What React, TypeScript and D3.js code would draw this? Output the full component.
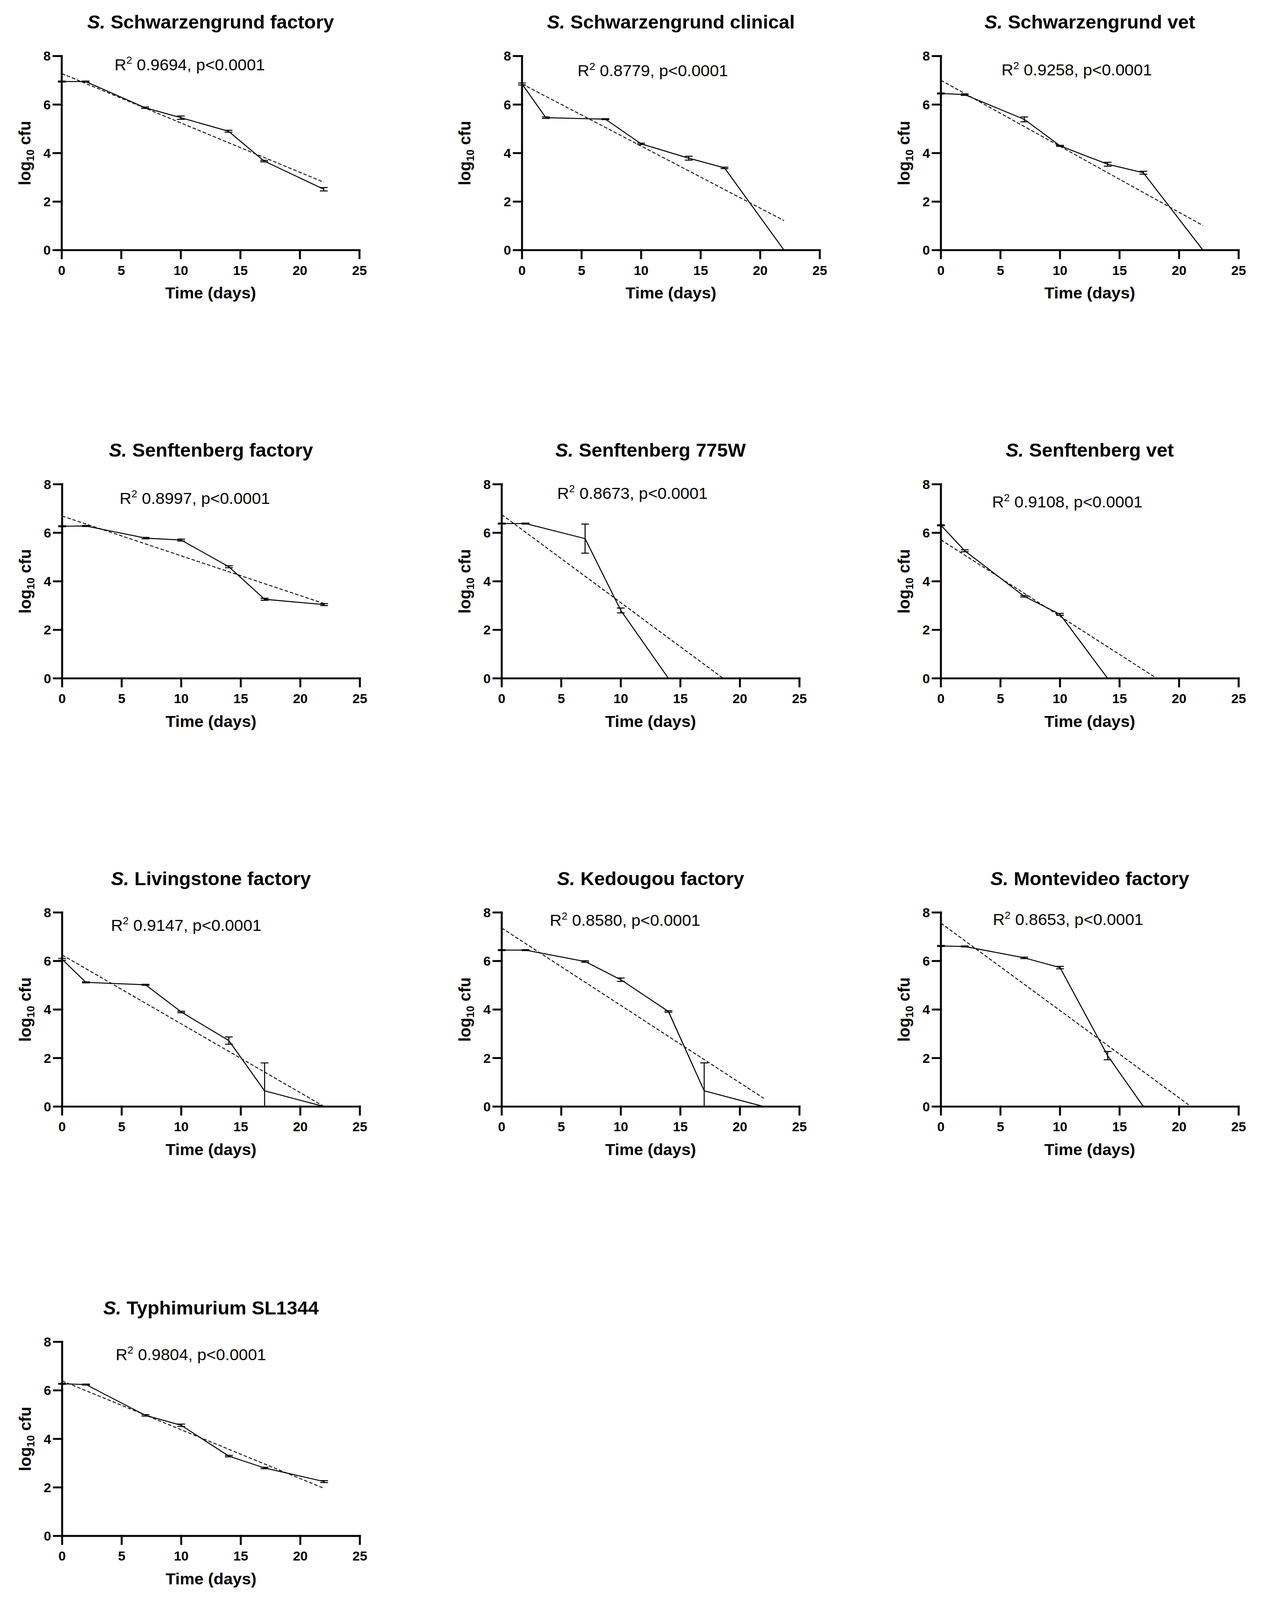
import React from 'react';
import * as d3 from 'd3';

// ---------------- data ----------------
const DAYS_7 = [0, 2, 7, 10, 14, 17, 22];
const DAYS_6 = [0, 2, 7, 10, 14, 17];
const DAYS_5 = [0, 2, 7, 10, 14];

const X_TICKS = [0, 5, 10, 15, 20, 25];
const Y_TICKS = [0, 2, 4, 6, 8];
const X_DOMAIN = [0, 25];
const Y_DOMAIN = [0, 8];

const SEROVARS = [
  'Schwarzengrund factory',
  'Schwarzengrund clinical',
  'Schwarzengrund vet',
  'Senftenberg factory',
  'Senftenberg 775W',
  'Senftenberg vet',
  'Livingstone factory',
  'Kedougou factory',
  'Montevideo factory',
  'Typhimurium SL1344',
];
const R2_VALUES = ['0.9694', '0.8779', '0.9258', '0.8997', '0.8673', '0.9108', '0.9147', '0.8580', '0.8653', '0.9804'];
const P_LABEL = 'p<0.0001';
const X_TITLE = 'Time (days)';

const SCHW_FACTORY = [6.95, 6.95, 5.87, 5.46, 4.9, 3.67, 2.51];
const SCHW_FACTORY_SEM = [0.02, 0.02, 0.03, 0.07, 0.04, 0.03, 0.07];
const SCHW_CLINICAL = [6.85, 5.46, 5.4, 4.38, 3.79, 3.39, 0];
const SCHW_CLINICAL_SEM = [0.04, 0.03, 0.02, 0.03, 0.08, 0.03, 0];
const SCHW_VET = [6.46, 6.41, 5.39, 4.3, 3.54, 3.19, 0];
const SCHW_VET_SEM = [0.02, 0.03, 0.1, 0.02, 0.08, 0.06, 0];
const SENF_FACTORY = [6.27, 6.28, 5.78, 5.7, 4.6, 3.26, 3.04];
const SENF_FACTORY_SEM = [0.02, 0.02, 0.03, 0.04, 0.04, 0.04, 0.04];
const SENF_775W = [6.38, 6.38, 5.76, 2.8, 0];
const SENF_775W_SEM = [0.02, 0.02, 0.6, 0.1, 0];
const SENF_VET = [6.31, 5.26, 3.38, 2.64, 0];
const SENF_VET_SEM = [0.02, 0.04, 0.03, 0.04, 0];
const LIVINGSTONE = [6.07, 5.12, 5.02, 3.9, 2.72, 0.65, 0];
const LIVINGSTONE_SEM = [0.04, 0.02, 0.02, 0.03, 0.15, 1.15, 0];
const KEDOUGOU = [6.45, 6.45, 5.98, 5.23, 3.92, 0.65, 0];
const KEDOUGOU_SEM = [0.02, 0.02, 0.03, 0.07, 0.03, 1.15, 0];
const MONTEVIDEO = [6.62, 6.6, 6.13, 5.73, 2.1, 0];
const MONTEVIDEO_SEM = [0.02, 0.02, 0.03, 0.05, 0.17, 0];
const TYPHIMURIUM = [6.27, 6.24, 4.97, 4.56, 3.29, 2.8, 2.24];
const TYPHIMURIUM_SEM = [0.02, 0.02, 0.03, 0.05, 0.03, 0.03, 0.04];

const FIT_INTERCEPTS = [7.28, 6.85, 7.0, 6.69, 6.75, 5.71, 6.25, 7.36, 7.56, 6.39];
const FIT_SLOPES = [-0.2036, -0.256, -0.272, -0.164, -0.363, -0.315, -0.284, -0.319, -0.36, -0.2014];
const FIT_X_MAX = 22;

const SERIES_DAYS = [DAYS_7, DAYS_7, DAYS_7, DAYS_7, DAYS_5, DAYS_5, DAYS_7, DAYS_7, DAYS_6, DAYS_7];
const SERIES_MEANS = [SCHW_FACTORY, SCHW_CLINICAL, SCHW_VET, SENF_FACTORY, SENF_775W, SENF_VET, LIVINGSTONE, KEDOUGOU, MONTEVIDEO, TYPHIMURIUM];
const SERIES_SEMS = [SCHW_FACTORY_SEM, SCHW_CLINICAL_SEM, SCHW_VET_SEM, SENF_FACTORY_SEM, SENF_775W_SEM, SENF_VET_SEM, LIVINGSTONE_SEM, KEDOUGOU_SEM, MONTEVIDEO_SEM, TYPHIMURIUM_SEM];

// ---------------- layout ----------------
const W = 3240;
const H = 4196;
const PLOT_W = 762;
const PLOT_H = 509;
const PANEL_X = [158, 1336, 2408, 159, 1284, 2408, 159, 1284, 2408, 159];
const PANEL_Y = [147, 147, 147, 1270, 1270, 1270, 2393, 2393, 2393, 3519];
const YTITLE_X = [-80, -132, -80, -80, -80, -80, -80, -80, -80, -80];
const NOTE_POS = [
  [135, 37], [142, 53], [155, 51], [147, 51], [142, 38],
  [131, 61], [125, 48], [123, 35], [133, 33], [137, 48],
];
const FONT = '"Liberation Sans", Arial, Helvetica, sans-serif';

const AXIS_W = 5;
const TICK_LEN = 21;
const CAP_HALF = 10;

function Panel({ i }: { i: number }) {
  const x = d3.scaleLinear().domain(X_DOMAIN).range([0, PLOT_W]);
  const y = d3.scaleLinear().domain(Y_DOMAIN).range([PLOT_H, 0]);
  const days = SERIES_DAYS[i];
  const means = SERIES_MEANS[i];
  const sems = SERIES_SEMS[i];
  const pts: [number, number][] = days.map((d, k) => [d, means[k]]);
  const line = d3.line<[number, number]>().x((p) => x(p[0])).y((p) => y(p[1]));

  const b = FIT_INTERCEPTS[i];
  const m = FIT_SLOPES[i];
  const xEnd = Math.min(FIT_X_MAX, -b / m);
  const fitPts: [number, number][] = [[0, b], [xEnd, b + m * xEnd]];

  const clipId = `clip-${i}`;
  const [nx, ny] = NOTE_POS[i];

  return (
    <g transform={`translate(${PANEL_X[i]},${PANEL_Y[i]})`}>
      <defs>
        <clipPath id={clipId}>
          <rect x={-40} y={-120} width={PLOT_W + 100} height={PLOT_H + 120} />
        </clipPath>
      </defs>
      {/* title */}
      <text x={PLOT_W / 2} y={-72} textAnchor="middle" fontFamily={FONT} fontWeight="bold" fontSize={49} fill="#000">
        <tspan fontStyle="italic">S.</tspan>
        <tspan> {SEROVARS[i]}</tspan>
      </text>
      {/* annotation */}
      <text x={nx} y={ny} fontFamily={FONT} fontSize={42} fill="#000">
        <tspan>R</tspan>
        <tspan fontSize={27} dy={-17}>2</tspan>
        <tspan dy={17}>{` ${R2_VALUES[i]}, ${P_LABEL}`}</tspan>
      </text>
      <g clipPath={`url(#${clipId})`}>
        <path d={line(fitPts) || ''} fill="none" stroke="#000" strokeWidth={2.3} strokeDasharray="9 5" />
        <path d={line(pts) || ''} fill="none" stroke="#000" strokeWidth={2.6} strokeLinejoin="round" />
        {pts.map((p, k) => {
          const s = sems[k];
          if (!s) return null;
          const cx = x(p[0]);
          const yTop = y(p[1] + s);
          const yBot = y(p[1] - s);
          return (
            <g key={k} stroke="#000" strokeWidth={2.6}>
              <line x1={cx} x2={cx} y1={yTop} y2={yBot} />
              <line x1={cx - CAP_HALF} x2={cx + CAP_HALF} y1={yTop} y2={yTop} />
              <line x1={cx - CAP_HALF} x2={cx + CAP_HALF} y1={yBot} y2={yBot} />
            </g>
          );
        })}
      </g>
      {/* axes */}
      <g stroke="#000" strokeWidth={AXIS_W} strokeLinecap="square">
        <line x1={0} x2={0} y1={y(Y_DOMAIN[1])} y2={PLOT_H} />
        <line x1={0} x2={x(X_DOMAIN[1])} y1={PLOT_H} y2={PLOT_H} />
        {Y_TICKS.map((t) => (
          <line key={`yt${t}`} x1={-TICK_LEN} x2={0} y1={y(t)} y2={y(t)} />
        ))}
        {X_TICKS.map((t) => (
          <line key={`xt${t}`} x1={x(t)} x2={x(t)} y1={PLOT_H} y2={PLOT_H + TICK_LEN} />
        ))}
      </g>
      {Y_TICKS.map((t) => (
        <text key={`yl${t}`} x={-28} y={y(t)} dy="0.36em" textAnchor="end" fontFamily={FONT} fontWeight="bold" fontSize={34} fill="#000">
          {t}
        </text>
      ))}
      {X_TICKS.map((t) => (
        <text key={`xl${t}`} x={x(t)} y={PLOT_H + 65} textAnchor="middle" fontFamily={FONT} fontWeight="bold" fontSize={34} fill="#000">
          {t}
        </text>
      ))}
      <text x={PLOT_W / 2} y={PLOT_H + 127} textAnchor="middle" fontFamily={FONT} fontWeight="bold" fontSize={42} fill="#000">
        {X_TITLE}
      </text>
      <text
        transform={`translate(${YTITLE_X[i]},${PLOT_H / 2}) rotate(-90)`}
        textAnchor="middle"
        fontFamily={FONT}
        fontWeight="bold"
        fontSize={42}
        fill="#000"
      >
        <tspan>log</tspan>
        <tspan fontSize={28} dy={9}>10</tspan>
        <tspan dy={-9}> cfu</tspan>
      </text>
    </g>
  );
}

export default function App() {
  return (
    <svg
      viewBox={`0 0 ${W} ${H}`}
      preserveAspectRatio="none"
      style={{
        position: 'fixed',
        left: 0,
        top: 0,
        width: '100vw',
        height: '100vh',
        display: 'block',
        background: '#fff',
      }}
    >
      <rect x={0} y={0} width={W} height={H} fill="#fff" />
      {SEROVARS.map((_, i) => (
        <Panel key={i} i={i} />
      ))}
    </svg>
  );
}
